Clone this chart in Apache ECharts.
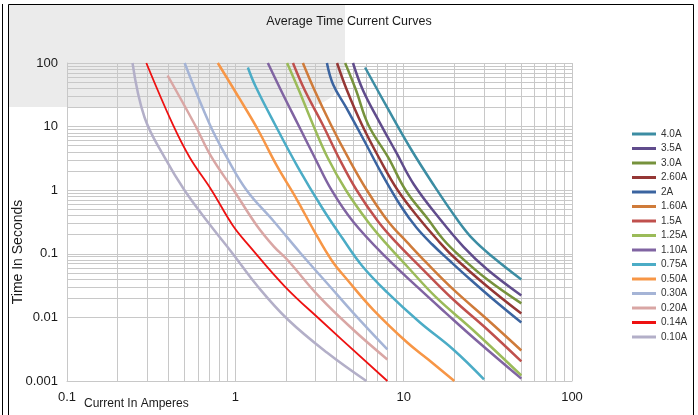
<!DOCTYPE html>
<html><head><meta charset="utf-8">
<script src="https://cdn.jsdelivr.net/npm/echarts@6/dist/echarts.min.js"></script>
<style>html,body{margin:0;padding:0;background:#fff}#c{width:698px;height:415px}</style>
</head><body><div id="c"></div>
<script>
// ---- data (current in amperes, time in seconds) ----
const seriesNames = ['4.0A','3.5A','3.0A','2.60A','2A','1.60A','1.5A','1.25A','1.10A','0.75A','0.50A','0.30A','0.20A','0.14A','0.10A'];
const c4_0A  = [[5.90,85],[7.98,20.0],[10.9,4.69],[15.0,1.23],[20.8,0.346],[25.9,0.168],[34.1,0.0875],[50,0.0394]];
const c3_5A  = [[5.00,100],[5.74,36.9],[7.05,12.9],[9.03,3.92],[11.5,1.23],[16.5,0.346],[22.6,0.130],[31.4,0.0566],[50,0.0221]];
const c3_0A  = [[4.49,100],[5.22,36.9],[6.15,10.8],[8.09,3.27],[10.3,0.99],[14.0,0.346],[17.2,0.168],[21.7,0.0907],[31.4,0.0394],[50,0.0166]];
const c2_60A = [[4.02,100],[4.61,36.9],[5.64,10.8],[7.12,3.27],[9.24,0.99],[12.5,0.346],[15.8,0.168],[19.7,0.0907],[31.4,0.0306],[50,0.0115]];
const c2A    = [[3.50,100],[3.81,45.9],[4.55,20.0],[5.82,6.04],[7.45,1.77],[9.66,0.554],[11.9,0.259],[14.8,0.140],[18.7,0.0785],[24.9,0.0394],[34.1,0.0191],[50,0.0083]];
const c1_60A = [[2.52,100],[2.96,36.9],[3.69,10.8],[4.67,3.27],[6.06,0.99],[8.09,0.322],[10.5,0.151],[13.6,0.073],[19.7,0.0275],[31.4,0.00927],[50,0.00302]];
const c1_5A  = [[2.20,100],[2.59,36.9],[3.30,10.8],[4.11,3.27],[5.27,0.99],[7.05,0.322],[9.03,0.151],[12.5,0.0631],[19.7,0.0191],[31.4,0.00645],[50,0.00203]];
const c1_25A = [[2.03,100],[2.39,36.9],[2.89,10.8],[3.53,3.27],[4.55,0.99],[6.12,0.322],[7.76,0.151],[10.5,0.0631],[15.6,0.0206],[25.6,0.00645],[50,0.00122]];
const c1_10A = [[1.56,100],[1.92,32.0],[2.36,10.8],[2.96,3.27],[3.74,0.99],[5.00,0.322],[7.87,0.0875],[12.5,0.0275],[17.7,0.0119],[26.7,0.0045],[50,0.00109]];
const c0_75A = [[1.187,85],[1.32,42.7],[1.72,10.8],[2.36,2.27],[3.27,0.535],[4.30,0.180],[5.64,0.0655],[7.98,0.0247],[12.5,0.0083],[19.7,0.00313],[30,0.00106]];
const c0_50A = [[0.787,100],[1.049,28.7],[1.36,9.0],[1.76,2.45],[2.32,0.714],[2.93,0.232],[3.74,0.0785],[4.61,0.0394],[6.58,0.0133],[10.5,0.00403],[14.0,0.00218],[20,0.001]];
const c0_30A = [[0.50,100],[0.705,10.8],[0.89,3.27],[1.17,0.99],[1.695,0.322],[2.42,0.105],[3.65,0.0306],[5.0,0.0119],[8,0.00313]];
const c0_20A = [[0.396,63.6],[0.574,10.8],[0.724,3.27],[0.98,0.99],[1.34,0.279],[1.695,0.130],[2.03,0.0813],[3.18,0.0206],[5.0,0.00645],[8,0.00218]];
const c0_14A = [[0.296,100],[0.425,10.8],[0.536,3.27],[0.724,0.99],[0.966,0.279],[1.22,0.130],[1.97,0.0306],[3.18,0.00927],[8,0.001]];
const c0_10A = [[0.245,100],[0.289,13.9],[0.380,3.27],[0.500,0.99],[0.705,0.289],[0.953,0.105],[1.36,0.0306],[2.05,0.00927],[3.50,0.0028],[6.0,0.001]];

const xTickLabels = ['0.1','1','10','100'];
const yTickLabels = ['0.001','0.01','0.1','1','10','100'];
const minorX = [0.2,0.3,0.4,0.5,0.6,0.7,0.8,0.9, 2,3,4,5,6,7,8,9, 20,30,40,50,60,70,80,90];
const minorY = [0.002,0.003,0.004,0.005,0.006,0.007,0.008,0.009, 0.02,0.03,0.04,0.05,0.06,0.07,0.08,0.09,
                0.2,0.3,0.4,0.5,0.6,0.7,0.8,0.9, 2,3,4,5,6,7,8,9, 20,30,40,50,60,70,80,90];

const allData = [c4_0A,c3_5A,c3_0A,c2_60A,c2A,c1_60A,c1_5A,c1_25A,c1_10A,c0_75A,c0_50A,c0_30A,c0_20A,c0_14A,c0_10A];
const colors = ['#3c8da3','#604c8c','#76923c','#953735','#3b64a0','#cf7b3a','#c0504d','#9bbb59','#8064a2','#4bacc6','#f79646','#a5b4d6','#d9a6a4','#ee1111','#b3afc8'];

const FONT = "'Liberation Sans', Arial, sans-serif";
const GRID_COLOR = '#c8c8c8';

function fmt(v){ return String(+Number(v).toPrecision(6)); }

// decorative grey backdrop behind the top-left of the plot (rounded lower-right corner)
const shadePts = [[9,5],[345,5],[345,60]];
for (let k=1;k<=12;k++){ const t=k/12, a=1-t;
  shadePts.push([a*a*345 + 2*a*t*345 + t*t*298, a*a*60 + 2*a*t*107 + t*t*107]); }
shadePts.push([9,107]);

const series = seriesNames.map((n,i)=>({
  name:n, type:'line', data: allData[i], showSymbol:false, symbol:'none',
  smooth:0.4, clip:true, z: 10,
  lineStyle:{color:colors[i], width: n==='0.14A'?1.8:2.5},
  itemStyle:{color:colors[i]},
  emphasis:{disabled:true}, animation:false
}));
series.push({
  name:'grid-minor', type:'line', data:[], silent:true, z:1, animation:false,
  markLine:{
    silent:true, symbol:['none','none'], animation:false, z:1,
    label:{show:false}, emphasis:{disabled:true},
    lineStyle:{color:GRID_COLOR, width:1, type:'solid'},
    data: minorX.map(v=>({xAxis:v})).concat(minorY.map(v=>({yAxis:v})))
  }
});

const chart = echarts.init(document.getElementById('c'), null, {renderer:'canvas'});
chart.setOption({
  animation:false,
  backgroundColor:'#ffffff',
  title:{text:'Average Time Current Curves', left:'center', top:10,
    textStyle:{fontFamily:FONT, fontSize:12.5, fontWeight:'normal', color:'#1a1a1a'}},
  grid:{left:67, top:63, width:505, height:318, containLabel:false},
  legend:{
    orient:'vertical', left:627, top:124, data:seriesNames,
    itemWidth:24, itemHeight:10, itemGap:4.5,
    textStyle:{fontFamily:FONT, fontSize:10, color:'#333', lineHeight:10},
    icon:'path://M0,4 L24,4 L24,7 L0,7 Z'
  },
  xAxis:{
    type:'log', logBase:10, min:0.1, max:100,
    axisLine:{show:true, lineStyle:{color:GRID_COLOR}},
    axisTick:{show:false},
    axisLabel:{fontFamily:FONT, fontSize:13, color:'#1a1a1a', margin:10,
      formatter:v=>{const s=fmt(v); return xTickLabels.includes(s)?s:'';}},
    splitLine:{show:true, lineStyle:{color:GRID_COLOR, width:1}}
  },
  yAxis:{
    type:'log', logBase:10, min:0.001, max:100,
    axisLine:{show:true, lineStyle:{color:GRID_COLOR}},
    axisTick:{show:false},
    axisLabel:{fontFamily:FONT, fontSize:13, color:'#1a1a1a', margin:9,
      formatter:v=>{const s=fmt(v); return yTickLabels.includes(s)?s:'';}},
    splitLine:{show:true, lineStyle:{color:GRID_COLOR, width:1}}
  },
  graphic:{elements:[
    {type:'polygon', z:-100, silent:true, shape:{points:shadePts}, style:{fill:'#ebebeb'}},
    {type:'rect', z:100, silent:true, shape:{x:8.5, y:4.5, width:685, height:430}, style:{fill:'none', stroke:'#000', lineWidth:1}},
    {type:'line', z:100, silent:true, shape:{x1:2.5, y1:4, x2:2.5, y2:415}, style:{stroke:'#000', lineWidth:1}},
    {type:'text', z:100, silent:true, x:84, y:404,
      style:{text:'Current In Amperes', font:'12px '+FONT, fill:'#1a1a1a', textAlign:'left', textVerticalAlign:'middle', align:'left', verticalAlign:'middle'}},
    {type:'text', z:100, silent:true, x:18, y:252, rotation:Math.PI/2,
      style:{text:'Time In Seconds', font:'14px '+FONT, fill:'#1a1a1a', textAlign:'center', textVerticalAlign:'middle', align:'center', verticalAlign:'middle'}}
  ]},
  series: series
});
</script></body></html>
